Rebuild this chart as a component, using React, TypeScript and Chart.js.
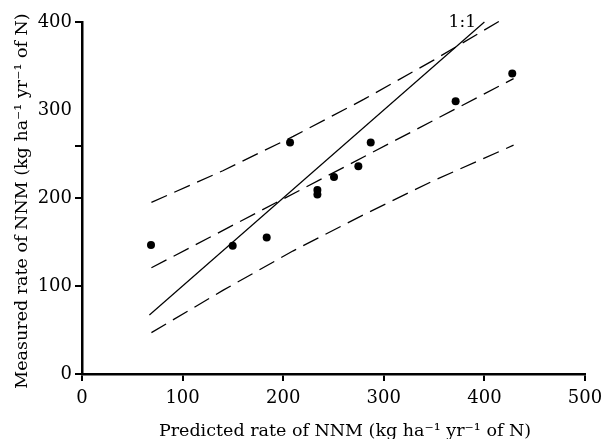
import React, { useEffect, useRef } from "react";
import { Chart, registerables } from "chart.js";

Chart.register(...registerables);

// Observed points: predicted vs measured NNM
const predicted = [68.6, 149.8, 183.6, 206.8, 234, 234, 250.5, 274.7, 287, 371.4, 427.7];
const measured = [146.5, 145.7, 155.2, 263, 209, 204, 224, 236, 263, 310, 341.4];

// 1:1 line
const oneToOneX = [67, 400];
const oneToOneY = [67, 400];

// Regression line
const regX = [69, 429];
const regY = [120.7, 335.7];

// Upper and lower prediction bands
const upperX = [69, 140, 210, 280, 350, 415];
const upperY = [195, 231, 270, 312, 357, 401];
const lowerX = [69, 140, 210, 280, 350, 429];
const lowerY = [47, 95, 140, 181, 220, 260];

// Axis ticks
const xTicks = [0, 100, 200, 300, 400, 500];
const yTicks = [0, 100, 200, 300, 400];
const yStrayTick = 259; // unlabeled tick mark on the original
const yUnmarkedLabel = 300; // label without tick mark on the original

const xTitle = "Predicted rate of NNM (kg ha\u207B\u00B9 yr\u207B\u00B9 of N)";
const yTitle = "Measured rate of NNM (kg ha\u207B\u00B9 yr\u207B\u00B9 of N)";
const lineLabel = "1:1";
const lineLabelAt = { x: 378, y: 394 };

const FONT = "'DejaVu Serif', serif";

const pts = (xs: number[], ys: number[]) => xs.map((x, i) => ({ x, y: ys[i] }));

export default function App() {
  const ref = useRef<HTMLCanvasElement | null>(null);
  useEffect(() => {
    if (!ref.current) return;
    const textPlugin = {
      id: "texts",
      afterDraw(chart: any) {
        const { ctx, scales } = chart;
        ctx.save();
        ctx.fillStyle = "#000";
        ctx.font = `17.5px ${FONT}`;
        ctx.textAlign = "center";
        ctx.textBaseline = "alphabetic";
        ctx.fillText(xTitle, 345, 436);
        ctx.save();
        ctx.translate(27, 201);
        ctx.rotate(-Math.PI / 2);
        ctx.fillText(yTitle, 0, 0);
        ctx.restore();
        ctx.font = `17px ${FONT}`;
        ctx.fillText(
          lineLabel,
          scales.x.getPixelForValue(lineLabelAt.x),
          scales.y.getPixelForValue(lineLabelAt.y)
        );
        ctx.restore();
      },
    };
    const dashed = {
      borderColor: "#000",
      borderWidth: 1.3,
      borderDash: [17, 8],
      pointRadius: 0,
      showLine: true,
      fill: false,
      tension: 0,
      clip: false as any,
    };
    const chart = new Chart(ref.current, {
      type: "scatter",
      data: {
        datasets: [
          {
            data: pts(predicted, measured),
            backgroundColor: "#000",
            borderColor: "#000",
            pointRadius: 4,
            pointBorderWidth: 0,
            clip: false as any,
          },
          {
            data: pts(oneToOneX, oneToOneY),
            borderColor: "#000",
            borderWidth: 1.2,
            pointRadius: 0,
            showLine: true,
            clip: false as any,
          },
          { ...dashed, data: pts(regX, regY) },
          { ...dashed, data: pts(upperX, upperY) },
          { ...dashed, data: pts(lowerX, lowerY) },
        ] as any,
      },
      plugins: [textPlugin],
      options: {
        responsive: false,
        animation: false,
        events: [],
        layout: { padding: { left: 0, top: 22, right: 16, bottom: 0 } },
        plugins: { legend: { display: false }, tooltip: { enabled: false } },
        scales: {
          x: {
            type: "linear",
            min: 0,
            max: 500,
            afterBuildTicks: (s: any) => {
              s.ticks = xTicks.map((v) => ({ value: v }));
            },
            afterFit: (s: any) => {
              s.height = 65;
              s.paddingLeft = 0;
              s.paddingRight = 0;
            },
            ticks: { color: "#000", font: { family: FONT, size: 18 }, padding: 7, maxRotation: 0 },
            grid: { drawOnChartArea: false, tickLength: 7, color: "#000", lineWidth: 2 },
            border: { color: "#000", width: 2.5 },
          },
          y: {
            type: "linear",
            min: 0,
            max: 400,
            afterBuildTicks: (s: any) => {
              s.ticks = [...yTicks, yStrayTick].sort((a, b) => a - b).map((v) => ({ value: v }));
            },
            afterFit: (s: any) => {
              s.width = 82;
              s.paddingTop = 0;
              s.paddingBottom = 0;
            },
            ticks: {
              color: "#000",
              font: { family: FONT, size: 18 },
              padding: 3,
              callback: (v: any) => (v === yStrayTick ? "" : String(v)),
            },
            grid: {
              drawOnChartArea: false,
              tickLength: 7,
              lineWidth: 2,
              color: (c: any) => (c.tick && c.tick.value === yUnmarkedLabel ? "rgba(0,0,0,0)" : "#000"),
            },
            border: { color: "#000", width: 2.5 },
          },
        },
      },
    });
    return () => chart.destroy();
  }, []);
  return (
    <div style={{ position: "fixed", left: 0, top: 0, width: 601, height: 439, background: "#fff" }}>
      <canvas ref={ref} width={601} height={439} style={{ width: 601, height: 439 }} />
    </div>
  );
}
